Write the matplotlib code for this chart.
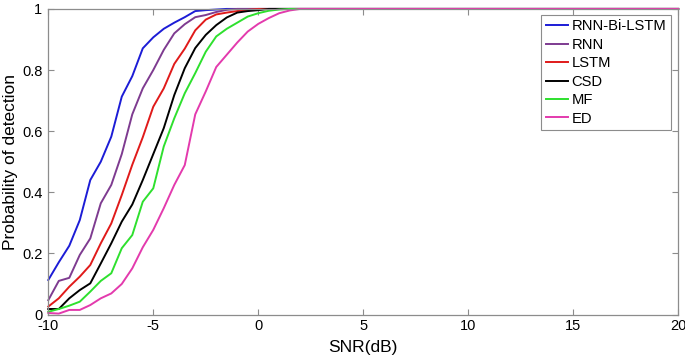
import matplotlib
matplotlib.use("Agg")
import matplotlib.pyplot as plt

plt.rcParams['font.family'] = ['Liberation Sans', 'DejaVu Sans']

snr = [-10, -9.5, -9, -8.5, -8, -7.5, -7, -6.5, -6, -5.5, -5, -4.5, -4, -3.5, -3, -2.5,
       -2, -1.5, -1, -0.5, 0, 0.5, 1, 1.5, 2, 2.5, 3, 4, 5, 6, 7, 8, 9, 10, 11, 12, 13,
       14, 15, 16, 17, 18, 19, 20]

rnn_bi_lstm = [0.113, 0.171, 0.225, 0.309, 0.44, 0.50, 0.582, 0.713, 0.78, 0.871, 0.907,
               0.935, 0.955, 0.973, 0.993, 0.996, 0.998, 1.0, 1.0, 1.0, 1.0, 1.0, 1.0, 1.0,
               1.0, 1.0, 1.0, 1.0, 1.0, 1.0, 1.0, 1.0, 1.0, 1.0, 1.0, 1.0, 1.0, 1.0, 1.0,
               1.0, 1.0, 1.0, 1.0, 1.0]
rnn = [0.047, 0.11, 0.12, 0.195, 0.249, 0.364, 0.424, 0.525, 0.655, 0.74, 0.80, 0.866,
       0.92, 0.95, 0.973, 0.98, 0.99, 0.997, 1.0, 1.0, 1.0, 1.0, 1.0, 1.0, 1.0, 1.0, 1.0,
       1.0, 1.0, 1.0, 1.0, 1.0, 1.0, 1.0, 1.0, 1.0, 1.0, 1.0, 1.0, 1.0, 1.0, 1.0, 1.0, 1.0]
lstm = [0.026, 0.053, 0.091, 0.124, 0.162, 0.233, 0.298, 0.391, 0.49, 0.58, 0.68, 0.74,
        0.82, 0.87, 0.93, 0.965, 0.982, 0.988, 0.993, 0.997, 1.0, 1.0, 1.0, 1.0, 1.0, 1.0,
        1.0, 1.0, 1.0, 1.0, 1.0, 1.0, 1.0, 1.0, 1.0, 1.0, 1.0, 1.0, 1.0, 1.0, 1.0, 1.0,
        1.0, 1.0]
csd = [0.018, 0.018, 0.053, 0.08, 0.102, 0.167, 0.233, 0.304, 0.36, 0.44, 0.525, 0.61,
       0.718, 0.806, 0.872, 0.915, 0.947, 0.972, 0.988, 0.993, 0.996, 1.0, 1.0, 1.0, 1.0,
       1.0, 1.0, 1.0, 1.0, 1.0, 1.0, 1.0, 1.0, 1.0, 1.0, 1.0, 1.0, 1.0, 1.0, 1.0, 1.0,
       1.0, 1.0, 1.0]
mf = [0.009, 0.018, 0.029, 0.042, 0.075, 0.11, 0.135, 0.217, 0.26, 0.369, 0.413, 0.55,
      0.642, 0.724, 0.79, 0.86, 0.91, 0.935, 0.955, 0.975, 0.986, 0.994, 0.998, 1.0, 1.0,
      1.0, 1.0, 1.0, 1.0, 1.0, 1.0, 1.0, 1.0, 1.0, 1.0, 1.0, 1.0, 1.0, 1.0, 1.0, 1.0,
      1.0, 1.0, 1.0]
ed = [0.005, 0.003, 0.015, 0.015, 0.031, 0.053, 0.069, 0.1, 0.151, 0.22, 0.277, 0.348,
      0.424, 0.489, 0.655, 0.73, 0.81, 0.85, 0.89, 0.926, 0.951, 0.97, 0.986, 0.995, 1.0,
      1.0, 1.0, 1.0, 1.0, 1.0, 1.0, 1.0, 1.0, 1.0, 1.0, 1.0, 1.0, 1.0, 1.0, 1.0, 1.0,
      1.0, 1.0, 1.0]

series_names = ['RNN-Bi-LSTM', 'RNN', 'LSTM', 'CSD', 'MF', 'ED']
series_values = [rnn_bi_lstm, rnn, lstm, csd, mf, ed]
colors = ['#1c1cd6', '#7e3b90', '#e01a1a', '#000000', '#2ee02e', '#e33aad']

xticks = [-10, -5, 0, 5, 10, 15, 20]
yticks = [0, 0.2, 0.4, 0.6, 0.8, 1.0]
ytick_labels = ['0', '0.2', '0.4', '0.6', '0.8', '1']

fig = plt.figure(figsize=(6.85, 3.57), dpi=100)
ax = fig.add_axes([0.0705, 0.119, 0.9195, 0.856])

for name, vals, c in zip(series_names, series_values, colors):
    ax.plot(snr, vals, color=c, lw=1.4, label=name, clip_on=False)

ax.set_xlim(-10, 20)
ax.set_ylim(0, 1)
ax.set_xticks(xticks)
ax.set_xticklabels([str(t) for t in xticks])
ax.set_yticks(yticks)
ax.set_yticklabels(ytick_labels)
ax.tick_params(direction='in', top=True, right=True, length=4, width=0.8,
               color='#8c8c8c', labelsize=10.5)
ax.tick_params(axis='x', pad=3.5)
ax.tick_params(axis='y', pad=4.3)
for s in ax.spines.values():
    s.set_color('#8c8c8c')
    s.set_linewidth(0.9)

ax.set_xlabel('SNR(dB)', fontsize=12.5, labelpad=5)
ax.set_ylabel('Probability of detection', fontsize=12.5, labelpad=3)

leg = ax.legend(loc='upper right', bbox_to_anchor=(0.988, 0.98), fontsize=10.6,
                frameon=True, fancybox=False, edgecolor='#8c8c8c', framealpha=1,
                handlelength=1.55, handletextpad=0.2, labelspacing=0.3,
                borderpad=0.3, borderaxespad=0.0)
leg.get_frame().set_linewidth(0.8)

fig.savefig('out.png', dpi=100)
